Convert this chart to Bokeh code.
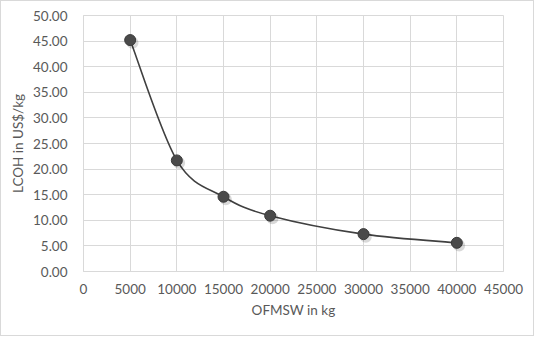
from bokeh.plotting import figure
from bokeh.models import Range1d, FixedTicker, PrintfTickFormatter, BasicTickFormatter
from bokeh.embed import file_html
from bokeh.resources import INLINE

mass_kg = [5000, 10000, 15000, 20000, 30000, 40000]
lcoh = [45.2, 21.7, 14.6, 10.9, 7.3, 5.6]
x_ticks = [0, 5000, 10000, 15000, 20000, 25000, 30000, 35000, 40000, 45000]
y_ticks = [0, 5, 10, 15, 20, 25, 30, 35, 40, 45, 50]

FONT = "Lato"
GRID = "#d9d9d9"
TXT = "#595959"
DARK = "#404040"

p = figure(frame_width=420, frame_height=256,
           min_border_left=82, min_border_right=30, min_border_top=14, min_border_bottom=64,
           x_range=Range1d(0, 45000), y_range=Range1d(0, 50),
           output_backend="svg", toolbar_location=None)
p.styles = {"border": "1px solid #d9d9d9"}
p.background_fill_color = "white"
p.border_fill_color = "white"
p.outline_line_color = GRID

for ax in (p.xaxis[0], p.yaxis[0]):
    ax.major_tick_line_color = None
    ax.minor_tick_line_color = None
    ax.axis_line_color = GRID
    ax.major_label_text_font = FONT
    ax.major_label_text_font_size = "13.5px"
    ax.major_label_text_color = TXT
    ax.axis_label_text_font = FONT
    ax.axis_label_text_font_size = "13.5px"
    ax.axis_label_text_color = TXT
    ax.axis_label_text_font_style = "normal"

p.xaxis.ticker = FixedTicker(ticks=x_ticks)
p.yaxis.ticker = FixedTicker(ticks=y_ticks)
p.xaxis.formatter = BasicTickFormatter(use_scientific=False)
p.yaxis.formatter = PrintfTickFormatter(format="%.2f")
p.xaxis.axis_label = "OFMSW in kg"
p.yaxis.axis_label = "LCOH in US$/kg"
p.xaxis.major_label_standoff = 6
p.yaxis.major_label_standoff = 10
p.xaxis.axis_label_standoff = 5
p.yaxis.axis_label_standoff = 4

p.xgrid.ticker = FixedTicker(ticks=x_ticks)
p.ygrid.ticker = FixedTicker(ticks=y_ticks)
p.grid.grid_line_color = GRID
p.grid.grid_line_width = 1

# smoothed line (Catmull-Rom style Bezier segments through the data points)
n = len(mass_kg)
x0, y0, x1, y1, cx0, cy0, cx1, cy1 = [], [], [], [], [], [], [], []
for i in range(n - 1):
    xa, ya = mass_kg[i], lcoh[i]
    xb, yb = mass_kg[i + 1], lcoh[i + 1]
    xp, yp = (mass_kg[i - 1], lcoh[i - 1]) if i > 0 else (xa, ya)
    xn, yn = (mass_kg[i + 2], lcoh[i + 2]) if i + 2 < n else (xb, yb)
    x0.append(xa); y0.append(ya); x1.append(xb); y1.append(yb)
    cx0.append(xa + (xb - xp) / 6); cy0.append(ya + (yb - yp) / 6)
    cx1.append(xb - (xn - xa) / 6); cy1.append(yb - (yn - ya) / 6)

p.bezier(x0=x0, y0=y0, x1=x1, y1=y1, cx0=cx0, cy0=cy0, cx1=cx1, cy1=cy1,
         line_color=DARK, line_width=1.6)
# marker shadow
p.scatter([m + 250 for m in mass_kg], [v - 0.5 for v in lcoh], size=12,
          fill_color="#000000", fill_alpha=0.15, line_color=None)
p.scatter(mass_kg, lcoh, size=11, fill_color="#4a4a4a", line_color="#3a3a3a", line_width=1)

open("out.html", "w").write(file_html(p, INLINE))
